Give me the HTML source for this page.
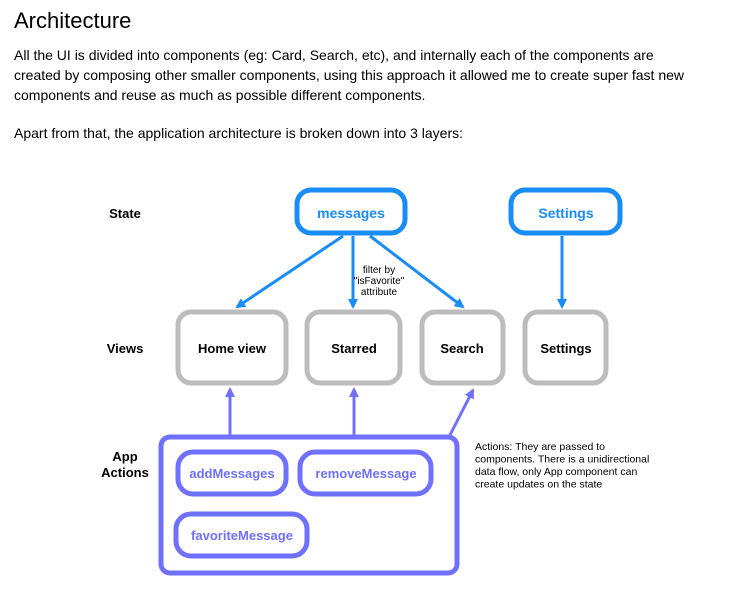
<!DOCTYPE html>
<html><head><meta charset="utf-8"><style>
html,body{margin:0;padding:0;background:#fff;width:730px;height:616px;overflow:hidden}
svg{display:block}
text{font-family:"Liberation Sans",Arial,sans-serif}
</style></head><body>
<svg width="730" height="616" viewBox="0 0 730 616" xmlns="http://www.w3.org/2000/svg">
<text x="14" y="28" font-size="22" fill="#000">Architecture</text>
<g font-size="14" fill="#000">
<text x="14" y="60">All the UI is divided into components (eg: Card, Search, etc), and internally each of the components are</text>
<text x="14" y="80">created by composing other smaller components, using this approach it allowed me to create super fast new</text>
<text x="14" y="100">components and reuse as much as possible different components.</text>
<text x="14" y="138">Apart from that, the application architecture is broken down into 3 layers:</text>
</g>
<defs>
<marker id="ab" markerWidth="10" markerHeight="10" refX="8" refY="5" orient="auto" markerUnits="userSpaceOnUse"><path d="M0,0 L10,5 L0,10 z" fill="#1a8cf5"/></marker>
<marker id="ap" markerWidth="10" markerHeight="10" refX="8" refY="5" orient="auto" markerUnits="userSpaceOnUse"><path d="M0,0 L10,5 L0,10 z" fill="#7070ff"/></marker>
</defs>
<g font-size="13" font-weight="bold" fill="#000" text-anchor="middle">
<text x="125" y="218">State</text>
<text x="125" y="353">Views</text>
<text x="125" y="461">App</text>
<text x="125" y="477">Actions</text>
</g>
<!-- state boxes -->
<g fill="#fff" stroke="#1a8cf5" stroke-width="5">
<rect x="297" y="190" width="108" height="43" rx="14"/>
<rect x="511" y="190" width="109" height="43" rx="14"/>
</g>
<g font-size="14" font-weight="bold" fill="#1a8cf5" text-anchor="middle">
<text x="351" y="218">messages</text>
<text x="566" y="218">Settings</text>
</g>
<!-- arrows -->
<g stroke="#1a8cf5" stroke-width="3" fill="none">
<line x1="343" y1="236" x2="237" y2="307" marker-end="url(#ab)"/>
<line x1="353" y1="236" x2="353" y2="307" marker-end="url(#ab)"/>
<line x1="370" y1="236" x2="463" y2="307" marker-end="url(#ab)"/>
<line x1="562" y1="236" x2="562" y2="307" marker-end="url(#ab)"/>
</g>
<g font-size="10" fill="#000" text-anchor="middle">
<text x="379" y="273">filter by</text>
<text x="379" y="284">"isFavorite"</text>
<text x="379" y="295">attribute</text>
</g>
<!-- views -->
<g fill="#fff" stroke="#bcbcbc" stroke-width="5">
<rect x="178" y="312" width="108" height="71" rx="13"/>
<rect x="307" y="312" width="93" height="71" rx="13"/>
<rect x="422" y="312" width="81" height="71" rx="13"/>
<rect x="525" y="312" width="81" height="71" rx="13"/>
</g>
<g font-size="13" font-weight="bold" fill="#000" text-anchor="middle">
<text x="232" y="353">Home view</text>
<text x="354" y="353">Starred</text>
<text x="462" y="353">Search</text>
<text x="566" y="353">Settings</text>
</g>
<!-- up arrows -->
<g stroke="#7070ff" stroke-width="3" fill="none">
<line x1="230" y1="435" x2="230" y2="389" marker-end="url(#ap)"/>
<line x1="354" y1="435" x2="354" y2="389" marker-end="url(#ap)"/>
<line x1="450" y1="435" x2="473" y2="390" marker-end="url(#ap)"/>
</g>
<!-- app box -->
<rect x="161" y="437" width="296" height="136" rx="9" fill="#fff" stroke="#7070ff" stroke-width="5"/>
<g fill="#fff" stroke="#7070ff" stroke-width="5">
<rect x="178" y="452" width="108" height="42" rx="15"/>
<rect x="300" y="452" width="131" height="42" rx="15"/>
<rect x="176" y="514" width="131" height="42" rx="15"/>
</g>
<g font-size="13" font-weight="bold" fill="#7070ff" text-anchor="middle">
<text x="232" y="478">addMessages</text>
<text x="366" y="478">removeMessage</text>
<text x="242" y="540">favoriteMessage</text>
</g>
<g font-size="10.5" fill="#000">
<text x="475" y="450">Actions: They are passed to</text>
<text x="475" y="462.5">components. There is a unidirectional</text>
<text x="475" y="475">data flow, only App component can</text>
<text x="475" y="487.5">create updates on the state</text>
</g>
</svg>
</body></html>
